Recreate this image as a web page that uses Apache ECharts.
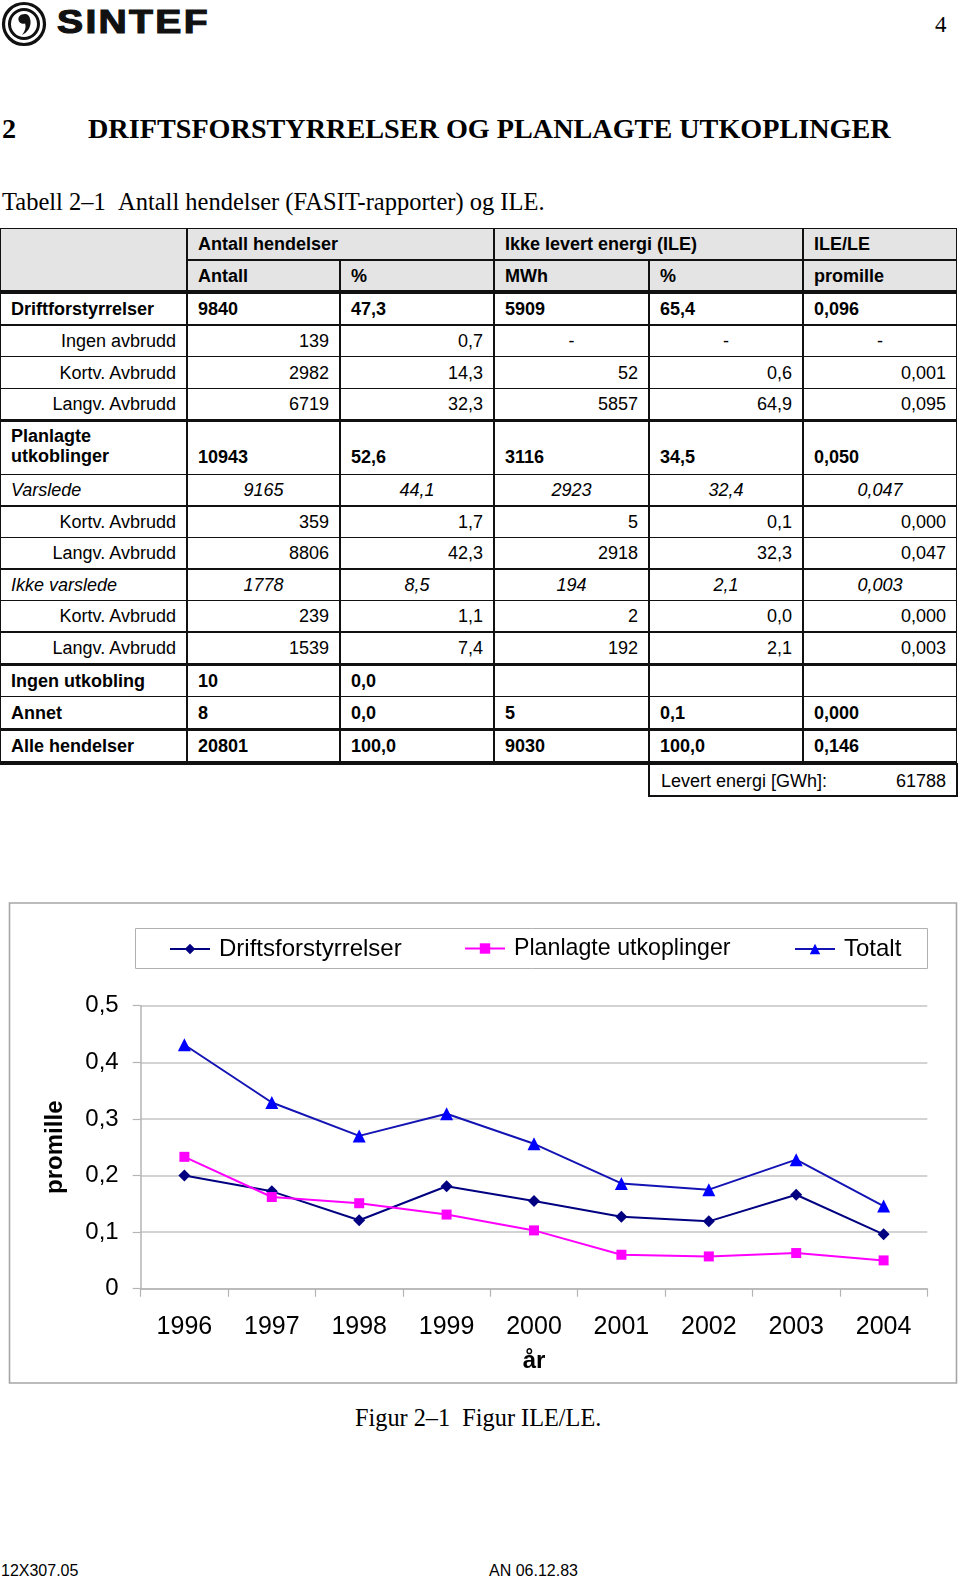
<!DOCTYPE html>
<html><head><meta charset="utf-8">
<script src="https://cdn.jsdelivr.net/npm/echarts@6/dist/echarts.min.js"></script>
<style>
html,body{margin:0;padding:0;background:#fff;}
body{width:960px;height:1579px;position:relative;overflow:hidden;font-family:"Liberation Sans",Arial,sans-serif;color:#000;}
.abs{position:absolute;white-space:nowrap;}
.serif{font-family:"Liberation Serif","Times New Roman",serif;}
.c{position:absolute;font-size:18px;line-height:20px;white-space:nowrap;}
.ln{position:absolute;background:#111;}
#chart{position:absolute;left:0;top:890px;width:960px;height:510px;}
</style></head>
<body>
<!-- header -->
<svg class="abs" style="left:1px;top:1px" width="46" height="46" viewBox="0 0 46 46">
  <circle cx="23" cy="23" r="20.5" fill="none" stroke="#111" stroke-width="3.2"/>
  <circle cx="23" cy="23" r="14.5" fill="none" stroke="#111" stroke-width="3"/>
  <path d="M24 13 C19 13 17 16 17.5 19 C18 22 21 23.5 24 22.5 C25 25 25 29 21 34 C27 31 30 26 29.5 20 C29 15.5 27 13 24 13 Z" fill="#111"/>
</svg>
<div class="abs" id="logo" style="left:57px;top:2px;font-size:34px;font-weight:bold;letter-spacing:2px;transform:scaleX(1.15);transform-origin:left top;-webkit-text-stroke:1.2px #111;color:#111;">SINTEF</div>
<div class="abs serif" style="left:935px;top:12px;font-size:23px;">4</div>
<div class="abs serif" style="left:2px;top:113px;font-size:28.2px;font-weight:bold;">2</div>
<div class="abs serif" id="h1" style="left:88px;top:113px;font-size:28.2px;font-weight:bold;">DRIFTSFORSTYRRELSER OG PLANLAGTE UTKOPLINGER</div>
<div class="abs serif" id="cap1" style="left:2px;top:188px;font-size:24.5px;">Tabell 2–1&nbsp;&nbsp;Antall hendelser (FASIT-rapporter) og ILE.</div>
<div id="tbl"></div>
<div id="chart"></div>
<div class="abs serif" style="left:355px;top:1404px;font-size:24.3px;">Figur 2–1&nbsp;&nbsp;Figur ILE/LE.</div>
<div class="abs" style="left:1px;top:1562px;font-size:16px;">12X307.05</div>
<div class="abs" style="left:489px;top:1562px;font-size:16px;">AN 06.12.83</div>

<script>
// ---------- table data ----------
const headerGroups = ['Antall hendelser', 'Ikke levert energi (ILE)', 'ILE/LE'];
const headerUnits = ['Antall', '%', 'MWh', '%', 'promille'];
const rowLabels = ['Driftforstyrrelser', 'Ingen avbrudd', 'Kortv. Avbrudd', 'Langv. Avbrudd',
  'Planlagte<br>utkoblinger', 'Varslede', 'Kortv. Avbrudd', 'Langv. Avbrudd',
  'Ikke varslede', 'Kortv. Avbrudd', 'Langv. Avbrudd', 'Ingen utkobling', 'Annet', 'Alle hendelser'];
const rowKinds = ['bold', 'sub', 'sub', 'sub', 'bold', 'ital', 'sub', 'sub', 'ital', 'sub', 'sub', 'bold', 'bold', 'bold'];
const rowValues = [
  ['9840', '47,3', '5909', '65,4', '0,096'],
  ['139', '0,7', '-', '-', '-'],
  ['2982', '14,3', '52', '0,6', '0,001'],
  ['6719', '32,3', '5857', '64,9', '0,095'],
  ['10943', '52,6', '3116', '34,5', '0,050'],
  ['9165', '44,1', '2923', '32,4', '0,047'],
  ['359', '1,7', '5', '0,1', '0,000'],
  ['8806', '42,3', '2918', '32,3', '0,047'],
  ['1778', '8,5', '194', '2,1', '0,003'],
  ['239', '1,1', '2', '0,0', '0,000'],
  ['1539', '7,4', '192', '2,1', '0,003'],
  ['10', '0,0', '', '', ''],
  ['8', '0,0', '5', '0,1', '0,000'],
  ['20801', '100,0', '9030', '100,0', '0,146']
];
const leveredLabel = 'Levert energi [GWh]:';
const leveredValue = '61788';

// ---------- chart data ----------
const years = ['1996', '1997', '1998', '1999', '2000', '2001', '2002', '2003', '2004'];
const driftsforstyrrelser = [0.200, 0.172, 0.121, 0.181, 0.155, 0.127, 0.119, 0.166, 0.096];
const planlagteUtkoplinger = [0.233, 0.162, 0.151, 0.131, 0.103, 0.060, 0.057, 0.063, 0.050];
const totalt = [0.431, 0.329, 0.270, 0.309, 0.256, 0.186, 0.175, 0.228, 0.146];
const seriesNames = ['Driftsforstyrrelser', 'Planlagte utkoplinger', 'Totalt'];
const axisTitleY = 'promille';
const axisTitleX = 'år';

// ---------- table layout ----------
const tbl = document.getElementById('tbl');
const colX = [0, 187, 340, 494, 649, 803, 957];
const rowY = [228.5, 259.5, 292, 325, 356.7, 388.3, 420.5, 474.3, 506, 537.7, 569, 600.3, 632, 664.3, 696.7, 729.5, 763];
const thickAfter = [3, 10, 12, 13];
function el(cls, css, html) {
  const d = document.createElement('div'); d.className = cls; d.style.cssText = css;
  if (html !== undefined) d.innerHTML = html; tbl.appendChild(d); return d;
}
function hline(x0, x1, y, t) { el('ln', `left:${x0}px;top:${y - t / 2}px;width:${x1 - x0}px;height:${t}px;`); }
function vline(x, y0, y1, t) { el('ln', `left:${x - t / 2}px;top:${y0}px;width:${t}px;height:${y1 - y0}px;`); }
function cell(text, c, y0, y1, align, weight, italic, valign) {
  const x0 = colX[c], x1 = colX[c + 1], pad = 11;
  let css = `font-weight:${weight};font-style:${italic ? 'italic' : 'normal'};`;
  if (align === 'left') css += `left:${x0 + pad}px;`;
  else if (align === 'right') css += `right:${960 - x1 + pad}px;text-align:right;`;
  else css += `left:${x0}px;width:${x1 - x0}px;text-align:center;`;
  if (valign === 'bottom') css += `top:${y1 - 27}px;`;
  else css += `top:${(y0 + y1) / 2 - 10}px;`;
  el('c', css, text);
}
// header background
el('', `position:absolute;left:0;top:${rowY[0]}px;width:957px;height:${rowY[2] - rowY[0]}px;background:#e4e4e4;`);
hline(0, 957, rowY[0], 1.4);
hline(colX[1], 957, rowY[1], 2);
hline(0, 957, rowY[2], 3.6);
for (let i = 0; i < rowLabels.length; i++) {
  const y1 = rowY[i + 3];
  hline(0, 957, y1, thickAfter.includes(i) ? 3.6 : 1.4);
}
vline(0.7, rowY[0], rowY[16], 1.4);
vline(956.3, rowY[0], rowY[16], 1.4);
[1, 3, 5].forEach(c => vline(colX[c], rowY[0], rowY[16], 1.4));
[2, 4].forEach(c => vline(colX[c], rowY[1], rowY[16], 1.4));
// header text
cell(headerGroups[0], 1, rowY[0], rowY[1], 'left', 'bold');
cell(headerGroups[1], 3, rowY[0], rowY[1], 'left', 'bold');
cell(headerGroups[2], 5, rowY[0], rowY[1], 'left', 'bold');
headerUnits.forEach((u, k) => cell(u, k + 1, rowY[1], rowY[2], 'left', 'bold'));
// body
rowLabels.forEach((lab, i) => {
  const y0 = rowY[i + 2], y1 = rowY[i + 3], kind = rowKinds[i];
  if (kind === 'bold') {
    const va = i === 4 ? 'bottom' : null;
    if (i === 4) el('c', `left:11px;top:${y0 + 5}px;font-weight:bold;line-height:20px;`, lab);
    else cell(lab, 0, y0, y1, 'left', 'bold');
    rowValues[i].forEach((v, k) => cell(v, k + 1, y0, y1, 'left', 'bold', false, va));
  } else if (kind === 'sub') {
    cell(lab, 0, y0, y1, 'right', 'normal');
    rowValues[i].forEach((v, k) => cell(v, k + 1, y0, y1, v === '-' ? 'center' : 'right', 'normal'));
  } else {
    cell(lab, 0, y0, y1, 'left', 'normal', true);
    rowValues[i].forEach((v, k) => cell(v, k + 1, y0, y1, 'center', 'normal', true));
  }
});
// levert energi box
el('', `position:absolute;left:${colX[4] - 1}px;top:${rowY[16]}px;width:${957 - colX[4] - 2}px;height:32px;border:2px solid #111;border-top:none;`);
el('c', `left:${colX[4] + 12}px;top:${rowY[16] + 8}px;`, leveredLabel);
el('c', `right:${960 - 946}px;top:${rowY[16] + 8}px;text-align:right;`, leveredValue);

// ---------- chart ----------
const chart = echarts.init(document.getElementById('chart'), null, { renderer: 'canvas' });
const FONT = '"Liberation Sans", Arial, sans-serif';
const legendBase = {
  orient: 'horizontal', top: 47, padding: 0, itemWidth: 40, itemHeight: 13, itemGap: 0,
  textStyle: { fontFamily: FONT, fontSize: 24, color: '#000', padding: [0, 0, 0, 4] }
};
chart.setOption({
  animation: false,
  backgroundColor: 'transparent',
  graphic: [
    { type: 'rect', shape: { x: 9.5, y: 13, width: 947, height: 480 }, style: { fill: 'none', stroke: '#a6a6a6', lineWidth: 1.6 }, z: -1 },
    { type: 'rect', shape: { x: 135.5, y: 38.5, width: 792, height: 40 }, style: { fill: 'none', stroke: '#b0b0b0', lineWidth: 1 }, z: -1 }
  ],
  legend: [
    Object.assign({}, legendBase, { left: 169, data: [seriesNames[0]] }),
    Object.assign({}, legendBase, { left: 464, data: [seriesNames[1]], textStyle: Object.assign({}, legendBase.textStyle, { fontSize: 23.2 }) }),
    Object.assign({}, legendBase, { left: 794, data: [seriesNames[2]] })
  ],
  grid: { left: 140.7, right: 32.7, top: 115.7, height: 283, containLabel: false },
  xAxis: {
    type: 'category', data: years, boundaryGap: true,
    name: axisTitleX, nameLocation: 'middle', nameGap: 61,
    nameTextStyle: { fontFamily: FONT, fontSize: 24, fontWeight: 'bold', color: '#000' },
    axisLine: { show: true, lineStyle: { color: '#b4b4b4', width: 1.5 } },
    axisTick: { show: true, interval: 0, length: 8, lineStyle: { color: '#b4b4b4', width: 1.2 } },
    axisLabel: { fontFamily: FONT, fontSize: 25, color: '#000', margin: 26, interval: 0 },
    splitLine: { show: false }
  },
  yAxis: {
    type: 'value', min: 0, max: 0.5, interval: 0.1,
    name: axisTitleY, nameLocation: 'middle', nameGap: 73,
    nameTextStyle: { fontFamily: FONT, fontSize: 24, fontWeight: 'bold', color: '#000' },
    axisLine: { show: true, lineStyle: { color: '#b4b4b4', width: 1.5 } },
    axisTick: { show: true, length: 8, lineStyle: { color: '#b4b4b4', width: 1.2 } },
    axisLabel: { fontFamily: FONT, fontSize: 24, color: '#000', margin: 22,
      formatter: v => v === 0 ? '0' : v.toFixed(1).replace('.', ',') },
    splitLine: { show: true, lineStyle: { color: '#c4c4c4', width: 1.5 } }
  },
  series: [
    { name: seriesNames[0], type: 'line', data: driftsforstyrrelser, symbol: 'diamond', symbolSize: 12,
      lineStyle: { color: '#000080', width: 2 }, itemStyle: { color: '#000080' } },
    { name: seriesNames[1], type: 'line', data: planlagteUtkoplinger, symbol: 'rect', symbolSize: 10,
      lineStyle: { color: '#ff00ff', width: 2 }, itemStyle: { color: '#ff00ff' } },
    { name: seriesNames[2], type: 'line', data: totalt, symbol: 'triangle', symbolSize: 13,
      lineStyle: { color: '#1414b4', width: 2 }, itemStyle: { color: '#0000ff' } }
  ]
});
</script>
</body></html>
